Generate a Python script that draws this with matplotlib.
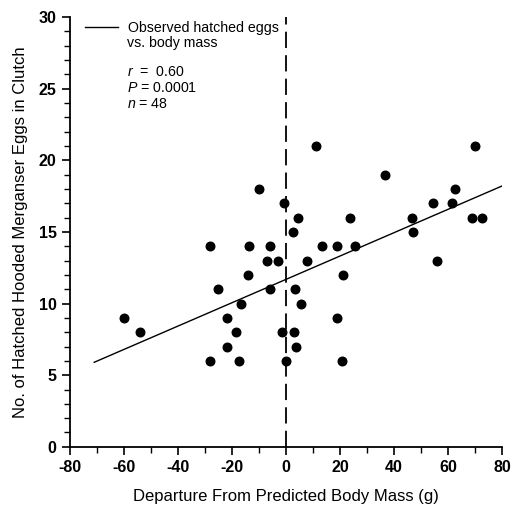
"""Hatched merganser eggs vs. departure from predicted body mass."""
import matplotlib
import numpy as np

matplotlib.use('Agg')
import matplotlib.pyplot as plt
from matplotlib.ticker import MultipleLocator

plt.rcParams['font.family'] = ['Liberation Sans', 'DejaVu Sans']
plt.rcParams['mathtext.fontset'] = 'custom'
plt.rcParams['mathtext.it'] = 'Liberation Sans:italic'
plt.rcParams['mathtext.rm'] = 'Liberation Sans'
plt.rcParams['axes.unicode_minus'] = False

mass_departure = [
    -60, -54, -28, -28, -25, -22, -22, -18.4, -17.4, -16.8,
    -14, -13.6, -10, -6.9, -5.9, -5.9, -3.1, -0.7, -1.6, -0.1,
    11, 70, 36.7, 62.6, 54.6, 61.4, 4.6, 23.7, 46.8, 68.8,
    72.7, 2.7, 46.9, 13.2, 19, 25.7, 7.7, 55.8, 21.2, 3.3,
    5.4, 18.8, 3.1, 3.7, 20.6,
]
eggs = [
    9, 8, 14, 6, 11, 9, 7, 8, 6, 10,
    12, 14, 18, 13, 14, 11, 13, 17, 8, 6,
    21, 21, 19, 18, 17, 17, 16, 16, 16, 16,
    16, 15, 15, 14, 14, 14, 13, 13, 12, 11,
    10, 9, 8, 7, 6,
]
fit_x = [-71, 80]
fit_y = [5.9, 18.2]

fig = plt.figure(figsize=(5.18, 5.13), dpi=100)
ax = fig.add_axes([0.135, 0.129, 0.834, 0.838])

ax.plot(fit_x, fit_y, color='black', linewidth=1.0, label='Observed hatched eggs')
ax.scatter(mass_departure, eggs, s=38, color='black', zorder=3)
ax.axvline(0, color='black', linewidth=1.3, linestyle=(0, (9, 4)))

ax.set_xlim(-80, 80)
ax.set_ylim(0, 30)
ax.xaxis.set_major_locator(MultipleLocator(20))
ax.xaxis.set_minor_locator(MultipleLocator(10))
ax.yaxis.set_major_locator(MultipleLocator(5))
ax.yaxis.set_minor_locator(MultipleLocator(1))
ax.tick_params(which='major', direction='out', length=6, width=1.2,
               labelsize=11.5, colors='black')
ax.tick_params(which='minor', direction='out', length=4, width=1.0)
for lbl in ax.get_xticklabels() + ax.get_yticklabels():
    lbl.set_fontweight('bold')

for side in ('top', 'right'):
    ax.spines[side].set_visible(False)
for side in ('left', 'bottom'):
    ax.spines[side].set_linewidth(1.3)

ax.set_xlabel('Departure From Predicted Body Mass (g)', fontsize=12, labelpad=10)
ax.set_ylabel('No. of Hatched Hooded Merganser Eggs in Clutch', fontsize=12, labelpad=8)

ax.legend(loc='upper left', frameon=False, fontsize=10.2, handlelength=2.3,
          handletextpad=0.7, borderpad=0, borderaxespad=0,
          bbox_to_anchor=(0.035, 0.99))
ax.text(0.133, 0.94, 'vs. body mass', transform=ax.transAxes,
        fontsize=10.2, va='center')
ax.text(0.133, 0.889, '$\\it{r}$  =  0.60\n$\\it{P}$ = 0.0001\n$\\it{n}$ = 48',
        transform=ax.transAxes, fontsize=10.2, va='top', linespacing=1.2)

fig.savefig('out.png', dpi=100)
plt.close(fig)
